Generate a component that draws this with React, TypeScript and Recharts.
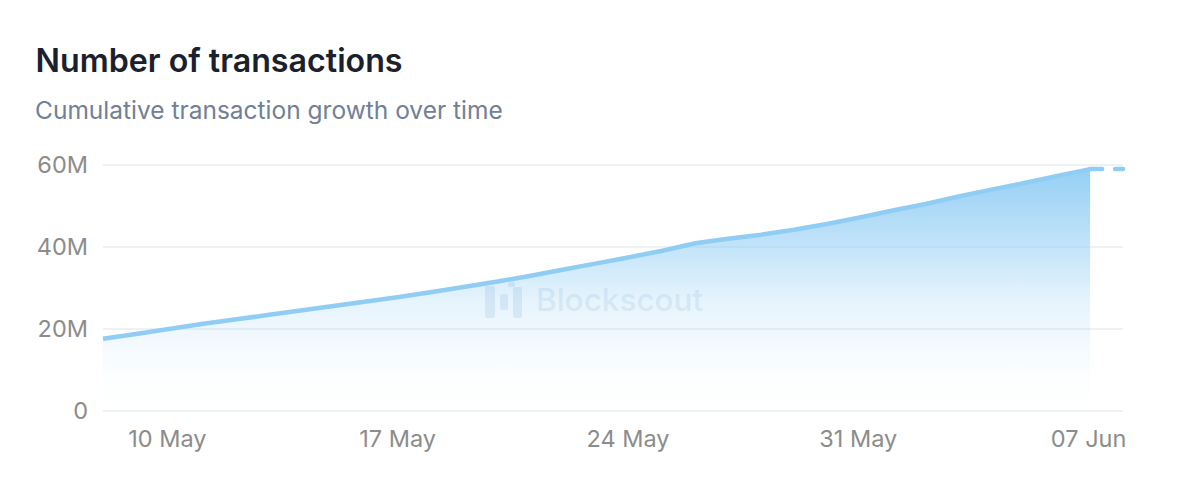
import {
  ComposedChart,
  Area,
  Line,
  XAxis,
  YAxis,
  CartesianGrid,
} from "recharts";

const dates = [
  "08 May", "09 May", "10 May", "11 May", "12 May", "13 May", "14 May", "15 May",
  "16 May", "17 May", "18 May", "19 May", "20 May", "21 May", "22 May", "23 May",
  "24 May", "25 May", "26 May", "27 May", "28 May", "29 May", "30 May", "31 May",
  "01 Jun", "02 Jun", "03 Jun", "04 Jun", "05 Jun", "06 Jun", "07 Jun", "08 Jun",
];

// millions of transactions
const confirmed = [
  17.6, 18.8, 20.0, 21.2, 22.3, 23.4, 24.5, 25.6,
  26.7, 27.8, 29.0, 30.3, 31.6, 33.0, 34.5, 36.0,
  37.5, 39.1, 40.9, 42.0, 43.0, 44.2, 45.6, 47.2,
  48.9, 50.5, 52.3, 54.0, 55.6, 57.3, 59.0, null,
];
const pending = [
  null, null, null, null, null, null, null, null,
  null, null, null, null, null, null, null, null,
  null, null, null, null, null, null, null, null,
  null, null, null, null, null, null, 59.0, 59.0,
];

const xTicks = ["10 May", "17 May", "24 May", "31 May", "07 Jun"];
const yTicks = [0, 20, 40, 60];

const FONT = "Inter, 'Liberation Sans', sans-serif";
const LINE = "#90CDF4";

const data = dates.map((date, i) => ({
  date,
  confirmed: confirmed[i],
  pending: pending[i],
}));

function Watermark() {
  const bar = { position: "absolute", background: "#2B6CB0", opacity: 0.1, borderRadius: 2 } as const;
  return (
    <>
      <div style={{ ...bar, left: 485, top: 286, width: 10, height: 32 }} />
      <div style={{ ...bar, left: 500, top: 294, width: 8, height: 16 }} />
      <div style={{ ...bar, left: 508, top: 282, width: 7, height: 5 }} />
      <div style={{ ...bar, left: 513, top: 287, width: 9, height: 31 }} />
      <div
        style={{
          position: "absolute",
          left: 536,
          top: 282,
          fontFamily: FONT,
          fontSize: 31.5,
          lineHeight: "36px",
          fontWeight: 500,
          color: "#2B6CB0",
          opacity: 0.09,
        }}
      >
        Blockscout
      </div>
    </>
  );
}

export default function App() {
  return (
    <div style={{ position: "absolute", left: 0, top: 0, width: 1200, height: 487, background: "#fff", overflow: "hidden" }}>
      <div
        style={{
          position: "absolute",
          left: 35.5,
          top: 40.5,
          fontFamily: FONT,
          fontSize: 32.2,
          lineHeight: "40px",
          fontWeight: 600,
          color: "#1A202C",
          whiteSpace: "nowrap",
        }}
      >
        Number of transactions
      </div>
      <div
        style={{
          position: "absolute",
          left: 35,
          top: 94,
          fontFamily: FONT,
          fontSize: 24.5,
          lineHeight: "32px",
          color: "#718096",
          whiteSpace: "nowrap",
        }}
      >
        Cumulative transaction growth over time
      </div>
      <div style={{ position: "absolute", left: 0, top: 0 }}>
        <ComposedChart
          width={1200}
          height={487}
          data={data}
          margin={{ top: 165, right: 77, bottom: 0, left: 0 }}
        >
          <defs>
            <linearGradient id="txGradient" x1="0" y1="0" x2="0" y2="1">
              <stop offset="0%" stopColor={LINE} stopOpacity={0.95} />
              <stop offset="30%" stopColor={LINE} stopOpacity={0.57} />
              <stop offset="55%" stopColor={LINE} stopOpacity={0.22} />
              <stop offset="85%" stopColor={LINE} stopOpacity={0.03} />
              <stop offset="100%" stopColor={LINE} stopOpacity={0} />
            </linearGradient>
          </defs>
          <CartesianGrid stroke="#EDF2F7" strokeWidth={2} vertical={false} />
          <XAxis
            dataKey="date"
            ticks={xTicks}
            interval={0}
            height={76}
            axisLine={false}
            tickLine={false}
            tick={{ fill: "#8C8C8C", fontSize: 23.5, fontFamily: FONT, dx: -1.5 }}
            tickMargin={13}
          />
          <YAxis
            width={103}
            domain={[0, 60]}
            ticks={yTicks}
            axisLine={false}
            tickLine={false}
            tick={{ fill: "#8C8C8C", fontSize: 23.5, fontFamily: FONT }}
            tickMargin={9}
            tickFormatter={(v: number) => (v === 0 ? "0" : `${v}M`)}
          />
          <Area
            dataKey="confirmed"
            stroke={LINE}
            strokeWidth={4.5}
            fill="url(#txGradient)"
            fillOpacity={1}
            dot={false}
            activeDot={false}
            isAnimationActive={false}
          />
          <Line
            dataKey="pending"
            stroke={LINE}
            strokeWidth={4.5}
            strokeDasharray="12 13"
            strokeLinecap="round"
            dot={false}
            activeDot={false}
            isAnimationActive={false}
          />
        </ComposedChart>
      </div>
      <Watermark />
    </div>
  );
}
